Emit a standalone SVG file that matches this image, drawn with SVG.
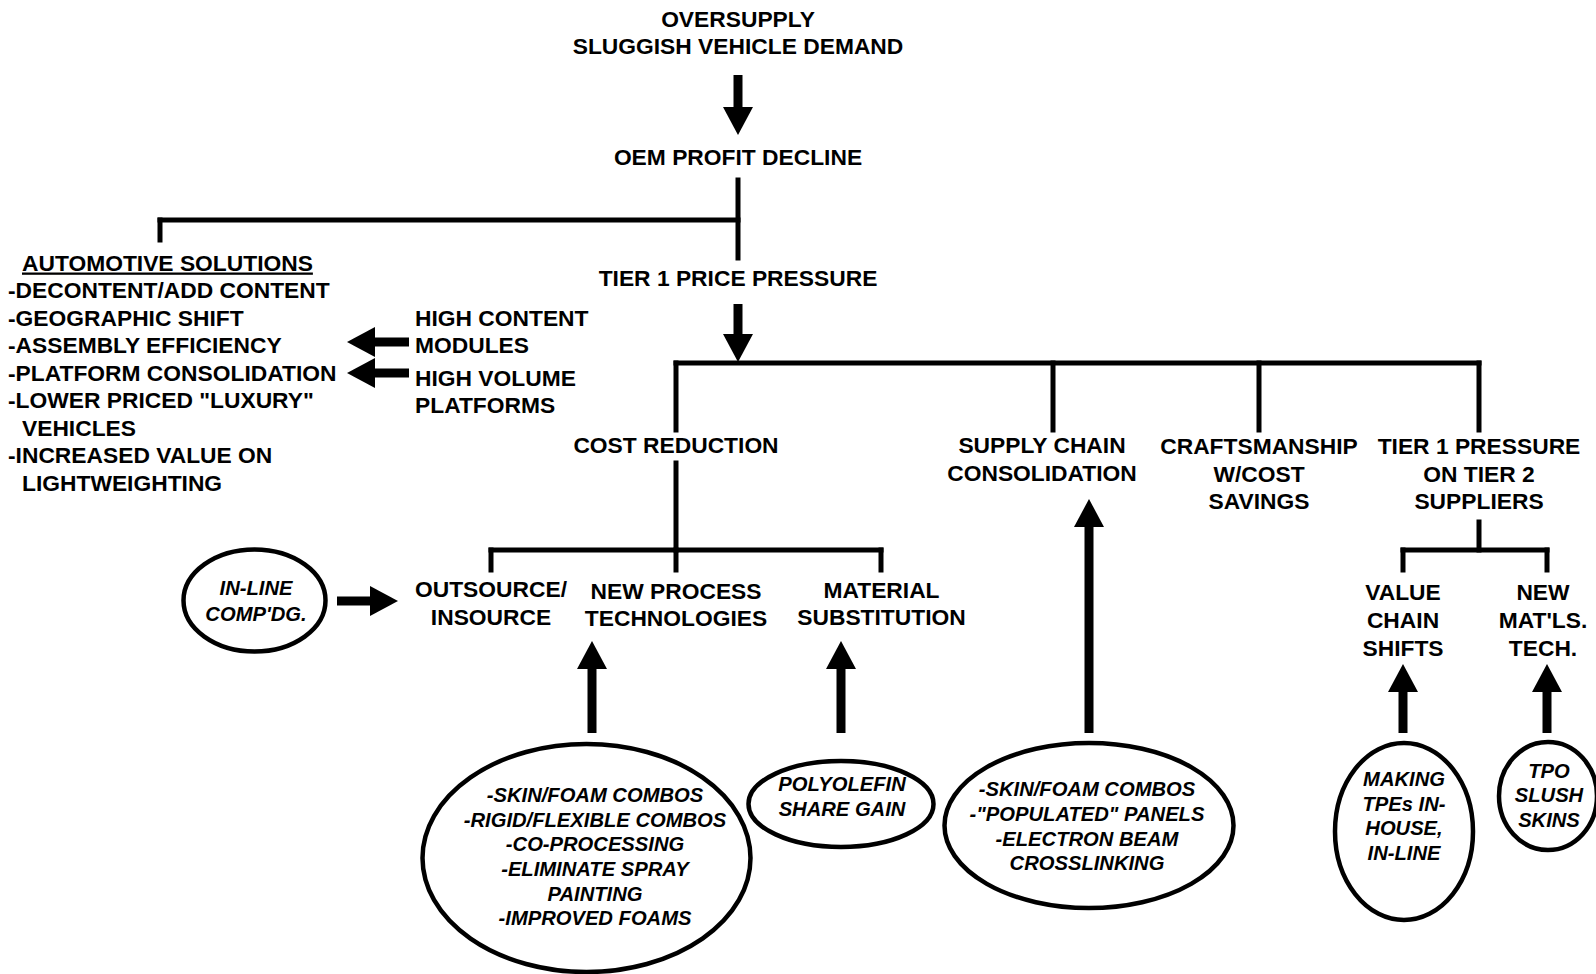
<svg xmlns="http://www.w3.org/2000/svg" width="1596" height="974" viewBox="0 0 1596 974">
<defs>
<marker id="ah" markerUnits="userSpaceOnUse" markerWidth="28" markerHeight="30" refX="0" refY="15" orient="auto" overflow="visible">
<path d="M0,0 L28,15 L0,30 Z" fill="#000"/>
</marker>
</defs>
<style>
.t{font-family:"Liberation Sans",Arial,sans-serif;font-weight:bold;font-size:22.8px;fill:#000}
.m{text-anchor:middle}
.e{font-family:"Liberation Sans",Arial,sans-serif;font-weight:bold;font-style:italic;font-size:20.2px;fill:#000;text-anchor:middle}
.ln{stroke:#000;stroke-width:5;fill:none;stroke-linecap:square}
.ar{stroke:#000;stroke-width:9;fill:none;marker-end:url(#ah)}
.el{fill:#fff;stroke:#000;stroke-width:4.5}
</style>
<rect width="1596" height="974" fill="#fff"/>

<g id="connectors">
<line class="ar" x1="738" y1="75" x2="738" y2="107"/>
<line class="ln" x1="738" y1="180" x2="738" y2="258"/>
<line class="ln" x1="160" y1="220" x2="738" y2="220"/>
<line class="ln" x1="160" y1="220" x2="160" y2="240"/>
<line class="ar" x1="738" y1="304" x2="738" y2="334"/>
<line class="ln" x1="676" y1="363" x2="1479" y2="363"/>
<line class="ln" x1="676" y1="363" x2="676" y2="430"/>
<line class="ln" x1="1053" y1="363" x2="1053" y2="430"/>
<line class="ln" x1="1259" y1="363" x2="1259" y2="430"/>
<line class="ln" x1="1479" y1="363" x2="1479" y2="430"/>
<line class="ln" x1="676" y1="463" x2="676" y2="550"/>
<line class="ln" x1="491" y1="550" x2="881" y2="550"/>
<line class="ln" x1="491" y1="550" x2="491" y2="570"/>
<line class="ln" x1="676" y1="550" x2="676" y2="570"/>
<line class="ln" x1="881" y1="550" x2="881" y2="570"/>
<line class="ln" x1="1479" y1="522" x2="1479" y2="550"/>
<line class="ln" x1="1403" y1="550" x2="1547" y2="550"/>
<line class="ln" x1="1403" y1="550" x2="1403" y2="570"/>
<line class="ln" x1="1547" y1="550" x2="1547" y2="570"/>
<line class="ar" x1="409" y1="342" x2="375" y2="342"/>
<line class="ar" x1="409" y1="373" x2="375" y2="373"/>
<line class="ar" x1="337" y1="601" x2="370" y2="601"/>
<line class="ar" x1="592" y1="733" x2="592" y2="669"/>
<line class="ar" x1="841" y1="733" x2="841" y2="669"/>
<line class="ar" x1="1089" y1="733" x2="1089" y2="527"/>
<line class="ar" x1="1403" y1="733" x2="1403" y2="692"/>
<line class="ar" x1="1547" y1="733" x2="1547" y2="692"/>
</g>

<g id="n-oversupply">
<text class="t m" x="738" y="27">OVERSUPPLY</text>
<text class="t m" x="738" y="54">SLUGGISH VEHICLE DEMAND</text>
</g>
<g id="n-oem"><text class="t m" x="738" y="165">OEM PROFIT DECLINE</text></g>
<g id="n-tier1"><text class="t m" x="738" y="286">TIER 1 PRICE PRESSURE</text></g>

<g id="n-automotive">
<text class="t" x="22" y="270.5" text-decoration="underline">AUTOMOTIVE SOLUTIONS</text>
<text class="t" x="8" y="298">-DECONTENT/ADD CONTENT</text>
<text class="t" x="8" y="325.5">-GEOGRAPHIC SHIFT</text>
<text class="t" x="8" y="353">-ASSEMBLY EFFICIENCY</text>
<text class="t" x="8" y="380.5">-PLATFORM CONSOLIDATION</text>
<text class="t" x="8" y="408">-LOWER PRICED "LUXURY"</text>
<text class="t" x="22" y="435.5">VEHICLES</text>
<text class="t" x="8" y="463">-INCREASED VALUE ON</text>
<text class="t" x="22" y="490.5">LIGHTWEIGHTING</text>
</g>
<g id="n-highcontent">
<text class="t" x="415" y="325.5">HIGH CONTENT</text>
<text class="t" x="415" y="353">MODULES</text>
</g>
<g id="n-highvolume">
<text class="t" x="415" y="385.5">HIGH VOLUME</text>
<text class="t" x="415" y="413">PLATFORMS</text>
</g>

<g id="n-cost"><text class="t m" x="676" y="453">COST REDUCTION</text></g>
<g id="n-supply">
<text class="t m" x="1042" y="453">SUPPLY CHAIN</text>
<text class="t m" x="1042" y="480.5">CONSOLIDATION</text>
</g>
<g id="n-craft">
<text class="t m" x="1259" y="454">CRAFTSMANSHIP</text>
<text class="t m" x="1259" y="481.5">W/COST</text>
<text class="t m" x="1259" y="509">SAVINGS</text>
</g>
<g id="n-tier2">
<text class="t m" x="1479" y="454">TIER 1 PRESSURE</text>
<text class="t m" x="1479" y="481.5">ON TIER 2</text>
<text class="t m" x="1479" y="509">SUPPLIERS</text>
</g>

<g id="n-outsource">
<text class="t m" x="491" y="596.5">OUTSOURCE/</text>
<text class="t m" x="491" y="624.5">INSOURCE</text>
</g>
<g id="n-newprocess">
<text class="t m" x="676" y="598.5">NEW PROCESS</text>
<text class="t m" x="676" y="626">TECHNOLOGIES</text>
</g>
<g id="n-material">
<text class="t m" x="881.5" y="597.5">MATERIAL</text>
<text class="t m" x="881.5" y="625">SUBSTITUTION</text>
</g>
<g id="n-valuechain">
<text class="t m" x="1403" y="599.5">VALUE</text>
<text class="t m" x="1403" y="627.5">CHAIN</text>
<text class="t m" x="1403" y="655.5">SHIFTS</text>
</g>
<g id="n-newmatls">
<text class="t m" x="1543" y="599.5">NEW</text>
<text class="t m" x="1543" y="627.5">MAT'LS.</text>
<text class="t m" x="1543" y="655.5">TECH.</text>
</g>

<g id="n-inline">
<ellipse class="el" cx="254.5" cy="600.5" rx="71" ry="51"/>
<text class="e" x="256" y="594.5">IN-LINE</text>
<text class="e" x="256" y="621">COMP'DG.</text>
</g>
<g id="n-process-list">
<ellipse class="el" cx="586.5" cy="858" rx="164" ry="114"/>
<text class="e" x="595" y="802">-SKIN/FOAM COMBOS</text>
<text class="e" x="595" y="826.5">-RIGID/FLEXIBLE COMBOS</text>
<text class="e" x="595" y="851">-CO-PROCESSING</text>
<text class="e" x="595" y="876">-ELIMINATE SPRAY</text>
<text class="e" x="595" y="900.5">PAINTING</text>
<text class="e" x="595" y="925">-IMPROVED FOAMS</text>
</g>
<g id="n-polyolefin">
<ellipse class="el" cx="841" cy="804" rx="92.5" ry="43"/>
<text class="e" x="842" y="791">POLYOLEFIN</text>
<text class="e" x="842" y="815.5">SHARE GAIN</text>
</g>
<g id="n-supply-list">
<ellipse class="el" cx="1089" cy="825.5" rx="144.5" ry="82.5"/>
<text class="e" x="1087" y="796">-SKIN/FOAM COMBOS</text>
<text class="e" x="1087" y="821">-"POPULATED" PANELS</text>
<text class="e" x="1087" y="845.5">-ELECTRON BEAM</text>
<text class="e" x="1087" y="870">CROSSLINKING</text>
</g>
<g id="n-making">
<ellipse class="el" cx="1404" cy="831.5" rx="69" ry="88.5"/>
<text class="e" x="1404" y="786">MAKING</text>
<text class="e" x="1404" y="810.5">TPEs IN-</text>
<text class="e" x="1404" y="835">HOUSE,</text>
<text class="e" x="1404" y="860">IN-LINE</text>
</g>
<g id="n-tpo">
<ellipse class="el" cx="1548" cy="796" rx="49" ry="54"/>
<text class="e" x="1549" y="777.5">TPO</text>
<text class="e" x="1549" y="802">SLUSH</text>
<text class="e" x="1549" y="826.5">SKINS</text>
</g>
</svg>
